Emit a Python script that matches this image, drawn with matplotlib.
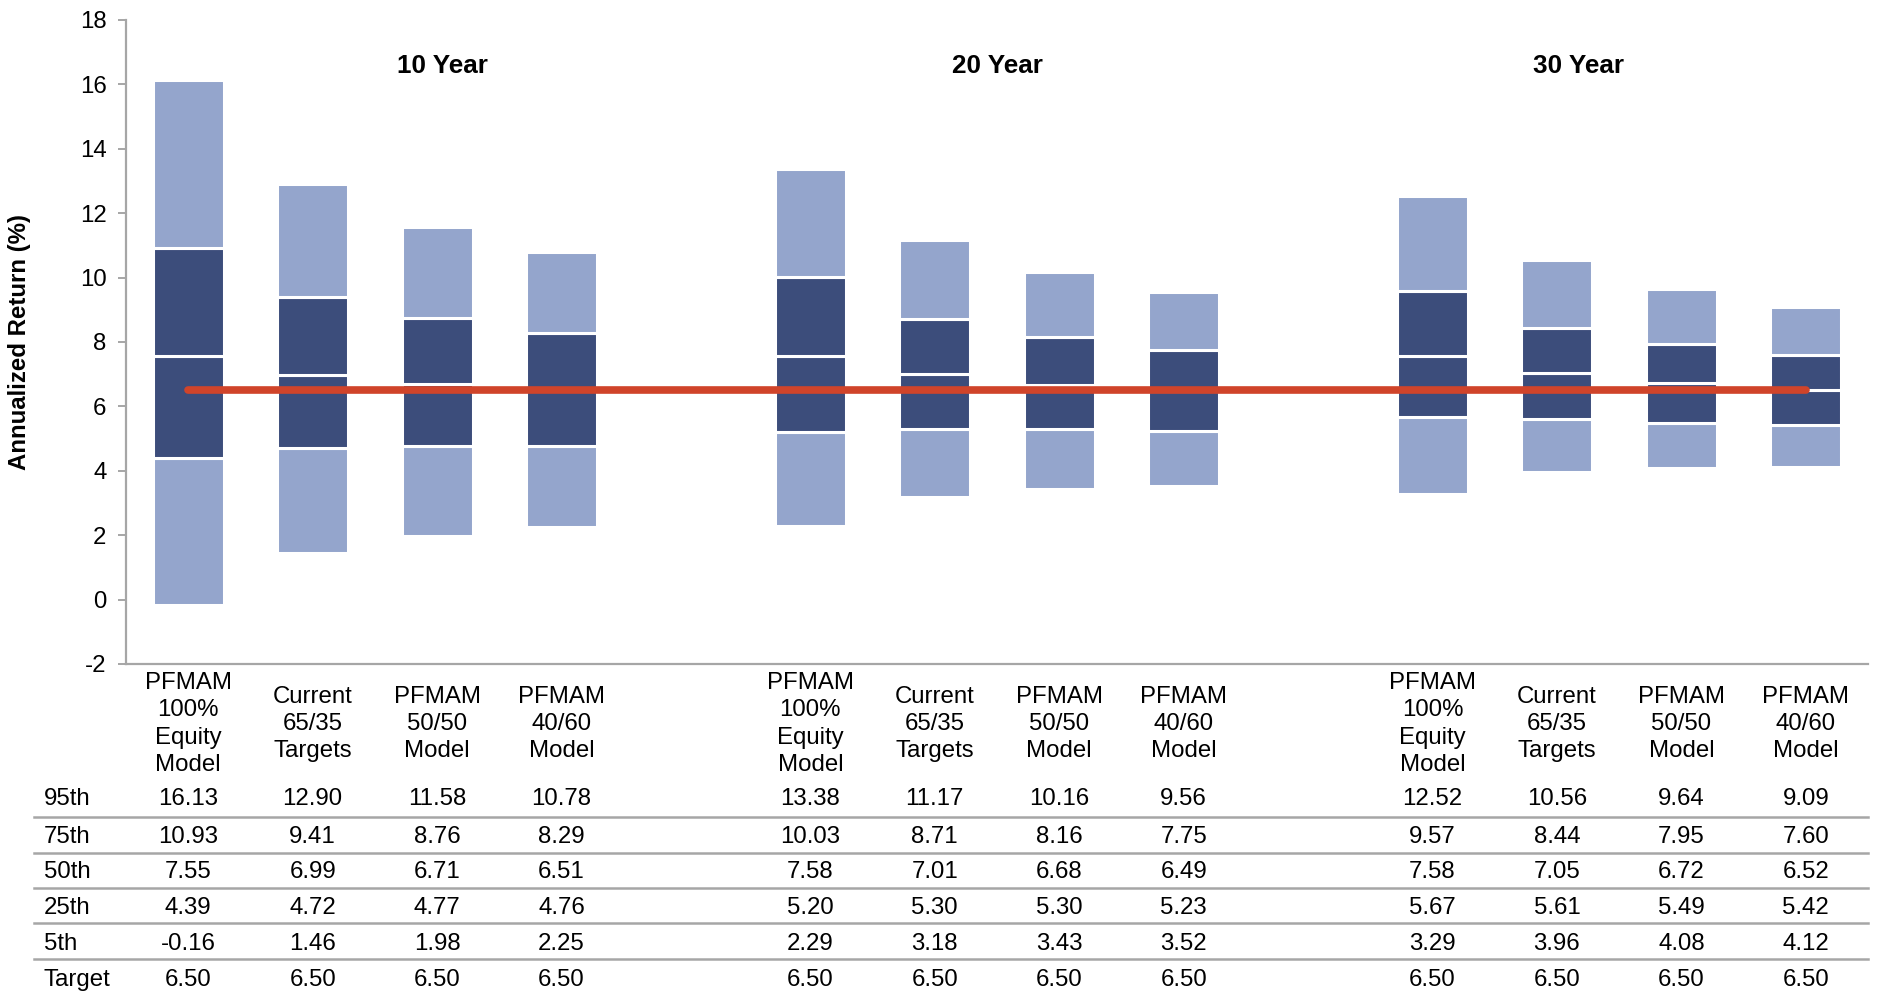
import matplotlib
matplotlib.use("Agg")
import matplotlib.pyplot as plt
import matplotlib.transforms as mtransforms
import numpy as np

plt.rcParams['font.family'] = ['Liberation Sans', 'DejaVu Sans']

# Portfolios and horizons
portfolios = ["PFMAM\n100%\nEquity\nModel", "Current\n65/35\nTargets",
              "PFMAM\n50/50\nModel", "PFMAM\n40/60\nModel"]
horizons = ["10 Year", "20 Year", "30 Year"]

# Percentile returns (%), ordered 10Y x4, 20Y x4, 30Y x4
p95 = [16.13, 12.90, 11.58, 10.78, 13.38, 11.17, 10.16, 9.56, 12.52, 10.56, 9.64, 9.09]
p75 = [10.93, 9.41, 8.76, 8.29, 10.03, 8.71, 8.16, 7.75, 9.57, 8.44, 7.95, 7.60]
p50 = [7.55, 6.99, 6.71, 6.51, 7.58, 7.01, 6.68, 6.49, 7.58, 7.05, 6.72, 6.52]
p25 = [4.39, 4.72, 4.77, 4.76, 5.20, 5.30, 5.30, 5.23, 5.67, 5.61, 5.49, 5.42]
p5 = [-0.16, 1.46, 1.98, 2.25, 2.29, 3.18, 3.43, 3.52, 3.29, 3.96, 4.08, 4.12]
target = [6.50] * 12

row_labels = ["95th", "75th", "50th", "25th", "5th", "Target"]
yticks = [-2, 0, 2, 4, 6, 8, 10, 12, 14, 16, 18]

LIGHT = "#94A5CC"
DARK = "#3C4D7B"
RED = "#D0442A"
GRID = "#A6A6A6"
FS = 17.3

W, H = 1878, 991
fig = plt.figure(figsize=(W / 100, H / 100), dpi=100)
ax = fig.add_axes([126 / W, 1 - 664 / H, (1868 - 126) / W, (664 - 20) / H])

# slot positions: four bars per horizon, one empty slot between horizons
x = np.array([g * 5 + i for g in range(3) for i in range(4)], dtype=float)
bw = 0.57

p5a, p25a, p50a, p75a, p95a = map(np.array, (p5, p25, p50, p75, p95))
segments = [(p5a, p25a, LIGHT), (p25a, p50a, DARK), (p50a, p75a, DARK), (p75a, p95a, LIGHT)]
for lo, hi, col in segments:
    ax.bar(x, hi - lo, bottom=lo, width=bw, color=col, edgecolor="white",
           linewidth=2.2, zorder=2)

# target line across all portfolios
ax.plot([x[0], x[-1]], [target[0], target[-1]], color=RED, lw=5.5,
        solid_capstyle="round", zorder=3)

ax.set_xlim(-0.5, 13.5)
ax.set_ylim(-2, 18)
ax.set_yticks(yticks)
ax.set_yticklabels([str(t) for t in yticks], fontsize=FS)
ax.set_xticks([])
for s in ("top", "right"):
    ax.spines[s].set_visible(False)
for s in ("left", "bottom"):
    ax.spines[s].set_color(GRID)
    ax.spines[s].set_linewidth(1.6)
ax.tick_params(axis="y", length=6, width=1.4, color=GRID, pad=8)
ax.set_ylabel("Annualized Return (%)", fontsize=FS, fontweight="bold")
ax.yaxis.set_label_coords(-0.0545, 0.5)

# horizon titles
title_x = [2.04, 6.5, 11.17]
for tx, h in zip(title_x, horizons):
    ax.text(tx, 16.57, h, ha="center", va="center", fontsize=18.8, fontweight="bold")

# category labels and data table below the axis
trans = mtransforms.blended_transform_factory(ax.transData, fig.transFigure)
for xi, lab in zip(x, portfolios * 3):
    fig.text(xi, 1 - 724 / H, lab, transform=trans, ha="center", va="center",
             fontsize=FS, linespacing=1.32)

rows = [p95, p75, p50, p25, p5, target]
row_y = [799, 837, 872.5, 908.5, 944.5, 980]
for ry, lab, vals in zip(row_y, row_labels, rows):
    fig.text(44 / W, 1 - ry / H, lab, ha="left", va="center", fontsize=FS)
    for xi, v in zip(x, vals):
        fig.text(xi, 1 - ry / H, f"{v:.2f}", transform=trans, ha="center",
                 va="center", fontsize=FS)

for ly in [817, 853, 888, 923, 959]:
    fig.add_artist(plt.Line2D([34 / W, 1868 / W], [1 - ly / H, 1 - ly / H],
                              transform=fig.transFigure, color=GRID, lw=1.8))

fig.savefig("out.png", dpi=100)
